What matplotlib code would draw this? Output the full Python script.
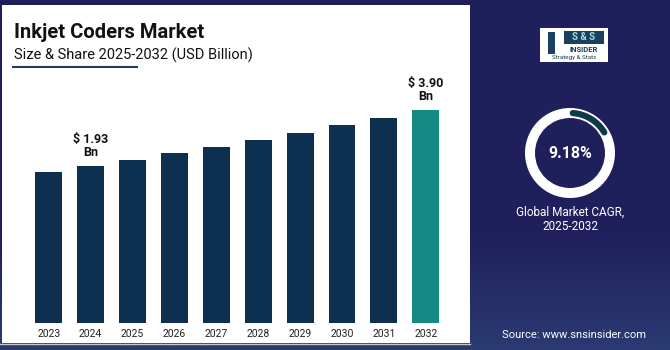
import numpy as np
import matplotlib.pyplot as plt
from matplotlib.patches import Rectangle, Wedge
from matplotlib.colors import LinearSegmentedColormap

plt.rcParams['font.family'] = ['Roboto', 'DejaVu Sans']

# data
years = ['2023', '2024', '2025', '2026', '2027', '2028', '2029', '2030', '2031', '2032']
values = [1.73, 1.93, 2.14, 2.37, 2.60, 2.84, 3.09, 3.36, 3.63, 3.90]
labelled = {1: '$ 1.93\nBn', 9: '$ 3.90\nBn'}
cagr_text = '9.18%'
cagr_caption = 'Global Market CAGR,\n2025-2032'
title = 'Inkjet Coders Market'
subtitle = 'Size & Share 2025-2032 (USD Billion)'
source = 'Source: www.snsinsider.com'

navy_bg = '#1f1f5b'
bar_col = '#0d3050'
last_col = '#138a82'
y_floor = -3.59  # bars in the source image don't start at zero

W, H = 670, 350
fig = plt.figure(figsize=(W / 100, H / 100), dpi=100)
fig.patch.set_facecolor(navy_bg)

# background layer in pixel coords (y measured from bottom)
bg = fig.add_axes([0, 0, 1, 1])
bg.set_xlim(0, W)
bg.set_ylim(0, H)
bg.axis('off')

# slight gradient on the dark side towards the bottom
grad = np.linspace(0, 1, 100)[:, None]
cm = LinearSegmentedColormap.from_list('g', ['#2a3a72', navy_bg])
bg.imshow(grad, extent=[0, W, 0, 120], cmap=cm, aspect='auto', origin='lower', zorder=0)

# white panel
bg.add_patch(Rectangle((2, 7), 468, 338, facecolor='white', edgecolor='none', zorder=1))
bg.plot([0, 470], [6, 6], color='#c8c8c8', lw=1, zorder=1)

# title block
bg.text(14, 318, title, fontsize=14.5, fontweight='bold', color='#111111', va='center', ha='left', zorder=2)
bg.text(14, 295, subtitle, fontsize=10.5, color='#111111', va='center', ha='left', zorder=2)
bg.plot([13, 137], [283, 283], color='#1f3a6a', lw=1.5, zorder=2)

# logo
bg.add_patch(Rectangle((540, 288), 68, 34, facecolor='white', edgecolor='none', zorder=2))
bg.add_patch(Rectangle((564, 306), 40, 13, facecolor='#1b3f5e', edgecolor='none', zorder=3))
bg.text(584, 312.5, 'S & S', fontsize=7, fontweight='bold', color='#9fe0dc', ha='center', va='center', zorder=4)
bg.text(584, 300, 'INSIDER', fontsize=5.5, fontweight='bold', color='#1b3f5e', ha='center', va='center', zorder=4)
bg.text(574, 292, 'Strategy & Stats', fontsize=4.5, color='#1b3f5e', ha='center', va='center', zorder=4)
bg.add_patch(Rectangle((548, 296), 7, 22, facecolor='#1b3f5e', edgecolor='none', zorder=3))

# donut
cx, cy = 570, 197
bg.add_patch(Wedge((cx, cy), 45, 0, 360, width=10, facecolor='white', edgecolor='none', zorder=2))
th = np.radians(np.linspace(31, 86, 60))
bg.plot(cx + 40 * np.cos(th), cy + 40 * np.sin(th), color='#0d3a4a', lw=4.5,
        solid_capstyle='round', zorder=3)
bg.text(cx, cy, cagr_text, fontsize=11.5, fontweight='bold', color='white', ha='center', va='center', zorder=3)
bg.text(cx, 131, cagr_caption, fontsize=8.5, color='white', ha='center', va='center',
        linespacing=1.1, zorder=3)

bg.text(574, 15, source, fontsize=8, color='white', ha='center', va='center', zorder=3)

# bar chart
ax = fig.add_axes([27.75 / W, 27 / H, 419 / W, 223 / H])
ax.patch.set_alpha(0)
x = np.arange(len(years))
cols = [bar_col] * (len(years) - 1) + [last_col]
ax.bar(x, np.array(values) - y_floor, width=0.64, color=cols, bottom=y_floor, zorder=2)
ax.set_xlim(-0.5, len(years) - 0.5)
ax.set_ylim(y_floor, 4.25)
for i, txt in labelled.items():
    ax.text(x[i], values[i] + 0.25, txt, ha='center', va='bottom', fontsize=9,
            fontweight='bold', color='#111111', linespacing=0.95)
ax.set_xticks(x)
ax.set_xticklabels(years, fontsize=7.5, color='#222222')
ax.tick_params(axis='x', length=0, pad=4)
ax.set_yticks([])
for s in ax.spines.values():
    s.set_visible(False)

fig.savefig('out.png', dpi=100, facecolor=fig.get_facecolor())
